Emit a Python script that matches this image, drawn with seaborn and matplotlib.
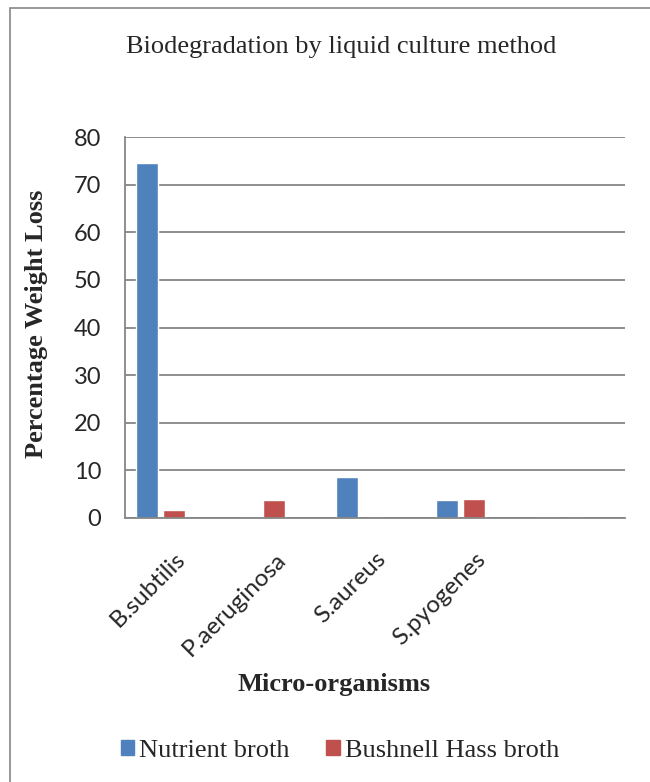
import pandas as pd
import matplotlib.pyplot as plt
import matplotlib.patches as mpatches
import seaborn as sns

# chart data
organisms = ['B.subtilis', 'P.aeruginosa', 'S.aureus', 'S.pyogenes', '']
nutrient_broth = [74.5, 0, 8.7, 3.8, 0]
bushnell_hass = [1.7, 3.8, 0, 3.9, 0]
series_names = ['Nutrient broth', 'Bushnell Hass broth']
colors = ['#4F81BD', '#C0504D']
y_ticks = [0, 10, 20, 30, 40, 50, 60, 70, 80]

df = pd.DataFrame({
    'organism': organisms * 2,
    'value': nutrient_broth + bushnell_hass,
    'medium': [series_names[0]] * len(organisms) + [series_names[1]] * len(organisms),
})

sns.set_theme(style='white')
serif = ['Liberation Serif', 'DejaVu Serif']
sans = ['Lato', 'DejaVu Sans']

fig = plt.figure(figsize=(6.5, 7.82), dpi=100)
ax = fig.add_axes([0.192, 0.3376, 0.7695, 0.4872])

sns.barplot(data=df, x='organism', y='value', hue='medium', order=organisms,
            hue_order=series_names, palette=colors, width=0.54, gap=0.18,
            saturation=1, ax=ax, legend=False)

# Excel places the category labels a bit right of the bar groups
offset = 0.14
ax.set_xlim(-0.5 + offset, len(organisms) - 0.5 + offset)
ax.set_xticks([i + offset for i in range(len(organisms))])
ax.set_xticklabels(organisms, rotation=45, ha='right', rotation_mode='anchor',
                   fontsize=17.5, family=sans)
ax.set_ylim(0, 80)
ax.set_yticks(y_ticks)
ax.set_yticklabels([str(t) for t in y_ticks], fontsize=17, family=sans)
ax.tick_params(axis='x', length=0, pad=22)
ax.tick_params(axis='y', length=0, pad=17)

ax.yaxis.grid(True, color='#868686', linewidth=1.3)
ax.set_axisbelow(True)
for s in ['top', 'right']:
    ax.spines[s].set_visible(False)
for s in ['left', 'bottom']:
    ax.spines[s].set_color('#868686')
    ax.spines[s].set_linewidth(1.3)

ax.set_xlabel('Micro-organisms', fontsize=19, fontweight='bold', family=serif)
ax.xaxis.set_label_coords(0.418, -0.436)
ax.xaxis.label.set_verticalalignment('center')
ax.set_ylabel('Percentage Weight Loss', fontsize=19, fontweight='bold', family=serif)
ax.yaxis.set_label_coords(-0.176, 0.51)
ax.yaxis.label.set_verticalalignment('center')

fig.text(0.5246, 0.94, 'Biodegradation by liquid culture method', ha='center', va='center',
         fontsize=19, family=serif)

handles = [mpatches.Patch(color=c, label=n) for c, n in zip(colors, series_names)]
fig.legend(handles=handles, loc='center', bbox_to_anchor=(0.523, 0.04), ncol=2,
           frameon=False, prop={'family': serif, 'size': 19}, handlelength=0.5,
           handleheight=0.5, handletextpad=0.2, columnspacing=1.4, borderpad=0)

# outer chart border
fig.patches.append(mpatches.Rectangle((10 / 650, -0.1), 1.0, 1.0 - 8 / 782 + 0.1,
                                      transform=fig.transFigure, fill=False,
                                      edgecolor='#868686', linewidth=1.2))

fig.savefig('out.png', dpi=100)
